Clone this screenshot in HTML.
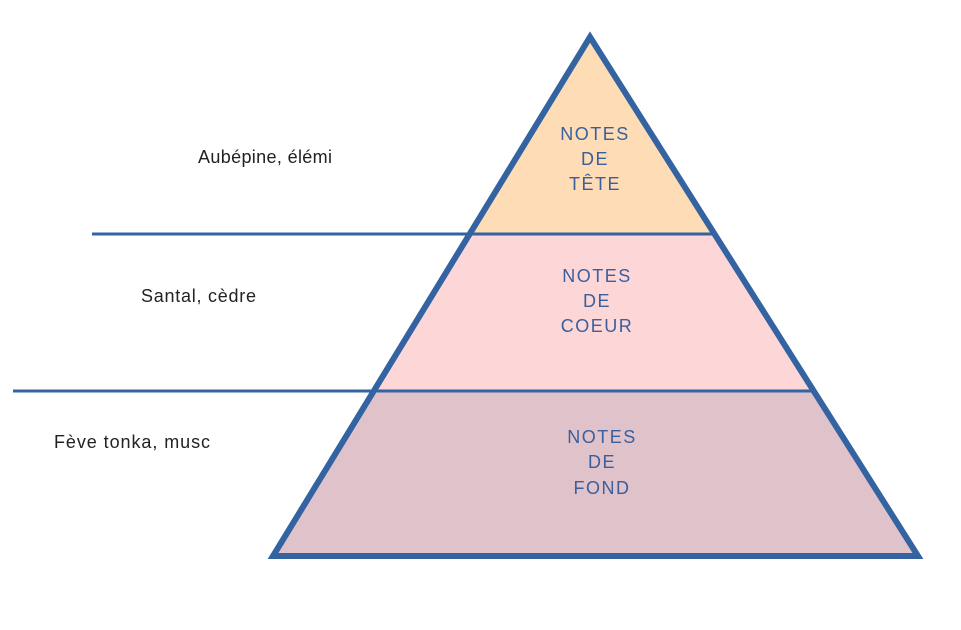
<!DOCTYPE html>
<html><head><meta charset="utf-8"><style>
html,body{margin:0;padding:0;background:#fff;width:961px;height:630px;overflow:hidden}
</style></head><body>
<svg width="961" height="630" viewBox="0 0 961 630" xmlns="http://www.w3.org/2000/svg">
<polygon points="590,37 470,234 714,234" fill="#fedcb6"/>
<polygon points="470,234 714,234 814,391 374,391" fill="#fdd6d7"/>
<polygon points="374,391 814,391 918,556 273,556" fill="#dfc2ca"/>
<line x1="92" y1="234" x2="714" y2="234" stroke="#3463a1" stroke-width="3"/>
<line x1="13" y1="391" x2="814" y2="391" stroke="#3463a1" stroke-width="3"/>
<polygon points="590,37 918,556 273,556" fill="none" stroke="#3463a1" stroke-width="6" stroke-linejoin="miter"/>
<g font-family="'Comic Sans MS','Liberation Sans',sans-serif" font-size="18" fill="#3a5f9c" text-anchor="middle" letter-spacing="1.5">
<text x="595" y="140">NOTES</text><text x="595" y="165">DE</text><text x="595" y="190">TÊTE</text>
<text x="597" y="282">NOTES</text><text x="597" y="307">DE</text><text x="597" y="332">COEUR</text>
<text x="602" y="443">NOTES</text><text x="602" y="468">DE</text><text x="602" y="494">FOND</text>
</g>
<g font-family="'Comic Sans MS','Liberation Sans',sans-serif" font-size="18" fill="#222">
<text x="198" y="163" textLength="134">Aubépine, élémi</text>
<text x="141" y="302" textLength="115">Santal, cèdre</text>
<text x="54" y="448" textLength="156">Fève tonka, musc</text>
</g>
</svg>
</body></html>
